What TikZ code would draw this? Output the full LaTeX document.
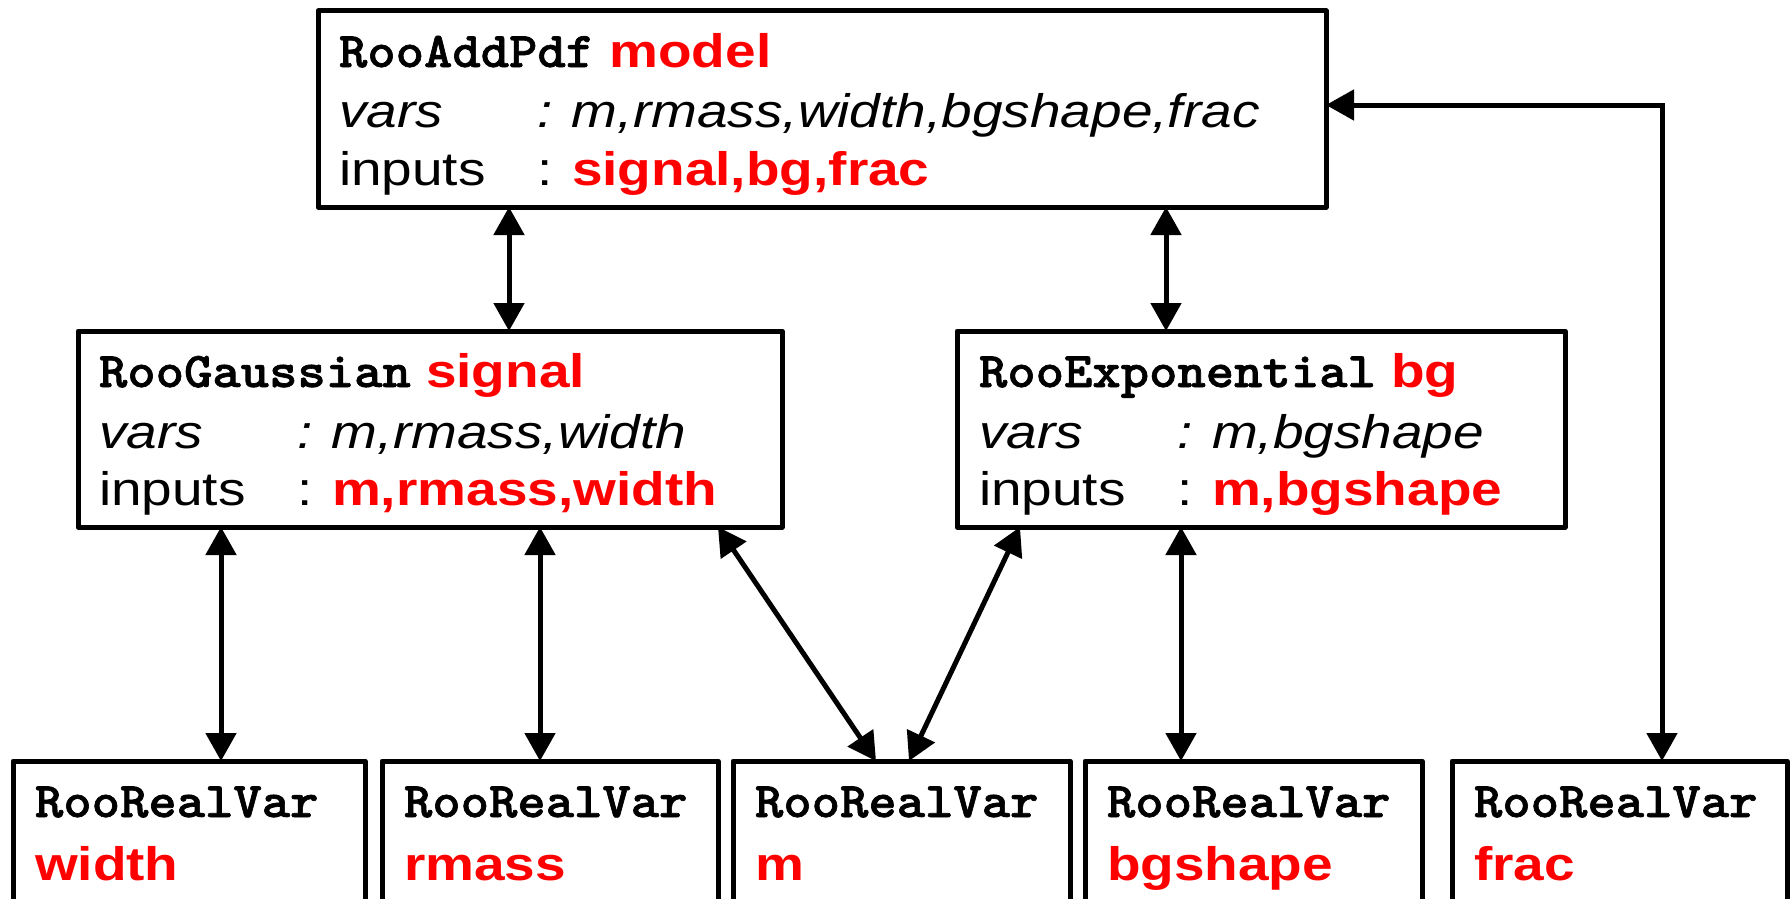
\documentclass[tikz,border=0pt]{standalone}
\usepackage{fontspec}
\setmainfont{Liberation Sans}[FakeStretch=1.17]
\newfontfamily\monof{lmmonolt10-bold}[Extension=.otf, FakeStretch=1.08, FakeBold=1.3]
\usetikzlibrary{arrows.meta}
\definecolor{rred}{RGB}{255,0,0}
\newcommand\redb[1]{\textcolor{rred}{\bfseries #1}}
\newcommand\kls[1]{{\fontsize{50pt}{56pt}\monof #1}}
\tikzset{
  box/.style={draw, line width=5pt, line join=round, inner sep=0pt, outer sep=0pt, anchor=north west},
  link/.style={line width=5pt, {Triangle[width=30pt,length=28pt]}-{Triangle[width=30pt,length=28pt]}},
  txt/.style={anchor=base west, inner sep=0pt, outer sep=0pt, font=\fontsize{47pt}{56pt}\selectfont}
}
\begin{document}
\begin{tikzpicture}[x=1pt,y=-1pt]
\clip (0,0) rectangle (1792,899);
\fill[white] (0,0) rectangle (1792,899);
% boxes
\node[box, minimum width=1008pt, minimum height=196pt] (model) at (318,11) {};
\node[box, minimum width=704pt, minimum height=196pt] (signal) at (78,331) {};
\node[box, minimum width=608pt, minimum height=196pt] (bg) at (957,331) {};
\node[box, minimum width=352pt, minimum height=220pt] (width) at (13,761) {};
\node[box, minimum width=336pt, minimum height=220pt] (rmass) at (382,761) {};
\node[box, minimum width=337pt, minimum height=220pt] (m) at (733,761) {};
\node[box, minimum width=337pt, minimum height=220pt] (bgshape) at (1085,761) {};
\node[box, minimum width=335pt, minimum height=220pt] (frac) at (1452,761) {};
% model text
\node[txt] (model1) at ([xshift=21pt,yshift=-56pt]model.north west) {\kls{RooAddPdf} \redb{model}};
\node[txt] (model2) at ([xshift=21pt,yshift=-117pt]model.north west) {\itshape\makebox[199pt][l]{vars}\makebox[34pt][l]{:}m,rmass,width,bgshape,frac};
\node[txt] (model3) at ([xshift=21pt,yshift=-174pt]model.north west) {\makebox[199pt][l]{inputs}\makebox[34pt][l]{:}\redb{signal,bg,frac}};
% signal text
\node[txt] (signal1) at ([xshift=21pt,yshift=-56pt]signal.north west) {\kls{RooGaussian} \redb{signal}};
\node[txt] (signal2) at ([xshift=21pt,yshift=-117pt]signal.north west) {\itshape\makebox[199pt][l]{vars}\makebox[34pt][l]{:}m,rmass,width};
\node[txt] (signal3) at ([xshift=21pt,yshift=-174pt]signal.north west) {\makebox[199pt][l]{inputs}\makebox[34pt][l]{:}\redb{m,rmass,width}};
% bg text
\node[txt] (bg1) at ([xshift=22pt,yshift=-56pt]bg.north west) {\kls{RooExponential} \redb{bg}};
\node[txt] (bg2) at ([xshift=22pt,yshift=-117pt]bg.north west) {\itshape\makebox[199pt][l]{vars}\makebox[34pt][l]{:}m,bgshape};
\node[txt] (bg3) at ([xshift=22pt,yshift=-174pt]bg.north west) {\makebox[199pt][l]{inputs}\makebox[34pt][l]{:}\redb{m,bgshape}};
% variable boxes text
\foreach \v in {width,rmass,m,bgshape,frac}{
  \node[txt] (\v-1) at ([xshift=22pt,yshift=-56pt]\v.north west) {\kls{RooRealVar}};
  \node[txt] (\v-2) at ([xshift=22pt,yshift=-119pt]\v.north west) {\redb{\v}};
}
% connectors
\draw[link] ([xshift=191pt]model.south west) -- ([xshift=431pt]signal.north west);
\draw[link] ([xshift=848pt]model.south west) -- ([xshift=209pt]bg.north west);
\draw[link] ([xshift=143pt]signal.south west) -- ([xshift=208pt]width.north west);
\draw[link] ([xshift=462pt]signal.south west) -- ([xshift=158pt]rmass.north west);
\draw[link] ([xshift=640pt]signal.south west) -- ([xshift=143pt]m.north west);
\draw[link] ([xshift=63pt]bg.south west) -- ([xshift=176pt]m.north west);
\draw[link] ([xshift=224pt]bg.south west) -- ([xshift=96pt]bgshape.north west);
\draw[link] ([yshift=-94pt]model.north east) -| ([xshift=210pt]frac.north west);
\end{tikzpicture}
\end{document}
